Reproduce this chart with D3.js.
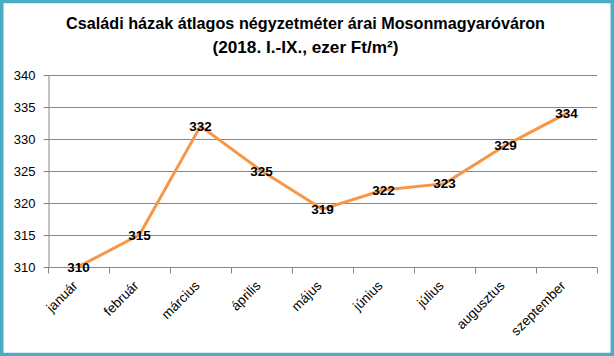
<!DOCTYPE html>
<html>
<head>
<meta charset="utf-8">
<script src="https://cdn.jsdelivr.net/npm/d3@7/dist/d3.min.js"></script>
<style>
  html, body { margin: 0; padding: 0; background: #fff; }
  svg { display: block; }
  text { font-family: "Liberation Sans", Arial, sans-serif; }
</style>
</head>
<body>
<svg id="chart" width="614" height="356"></svg>
<script>
const titleLines = ["Családi házak átlagos négyzetméter árai Mosonmagyaróváron", "(2018. I.-IX., ezer Ft/m²)"];
const categories = ["január", "február", "március", "április", "május", "június", "július", "augusztus", "szeptember"];
const values = [310, 315, 332, 325, 319, 322, 323, 329, 334];
const yTicks = [310, 315, 320, 325, 330, 335, 340];

const W = 614, H = 356;
const pLeft = 48, pRight = 597, pTop = 75, pBottom = 266.7;
const gridColor = "#868686";
const lineColor = "#F79646";
const frameColor = "#4BACC6";

const svg = d3.select("#chart");

svg.append("rect").attr("x", 0).attr("y", 0).attr("width", W).attr("height", H).attr("fill", "#fff");

const x = d3.scaleBand().domain(categories).range([pLeft, pRight]).padding(0);
const y = d3.scaleLinear().domain([310, 340]).range([pBottom, pTop]);

// gridlines
svg.append("g").selectAll("line").data(yTicks.filter(t => t !== 310)).join("line")
  .attr("x1", pLeft).attr("x2", pRight)
  .attr("y1", d => Math.round(y(d)) + 0.5).attr("y2", d => Math.round(y(d)) + 0.5)
  .attr("stroke", gridColor).attr("stroke-width", 1);

// y axis
const yAxis = d3.axisLeft(y).tickValues(yTicks).tickSize(5).tickPadding(8).tickSizeOuter(0);
const gy = svg.append("g").attr("transform", `translate(${pLeft + 0.5},0)`).call(yAxis);
gy.select(".domain").attr("stroke", gridColor);
gy.selectAll(".tick line").attr("stroke", gridColor);
gy.selectAll(".tick text").attr("font-size", 13).attr("fill", "#000")
  .attr("font-family", "Liberation Sans, Arial, sans-serif");
gy.selectAll(".tick").attr("transform", d => `translate(0,${Math.round(y(d)) + 0.5})`);

// x axis
const xb = Math.round(y(310)) + 0.5;
svg.append("line").attr("x1", pLeft).attr("x2", pRight).attr("y1", xb).attr("y2", xb).attr("stroke", gridColor);
const bounds = categories.map(c => x(c)).concat([x.range()[1]]);
svg.append("g").selectAll("line").data(bounds).join("line")
  .attr("x1", d => Math.round(d) + 0.5).attr("x2", d => Math.round(d) + 0.5)
  .attr("y1", xb).attr("y2", xb + 6).attr("stroke", gridColor);

// x labels
svg.append("g").selectAll("text").data(categories).join("text")
  .attr("transform", d => `translate(${x(d) + x.bandwidth() / 2},${xb + 19}) rotate(-45)`)
  .attr("text-anchor", "end")
  .attr("font-size", 13.5)
  .attr("fill", "#000")
  .text(d => d);

// line
const line = d3.line().x((d, i) => x(categories[i]) + x.bandwidth() / 2).y(d => y(d));
svg.append("path").datum(values).attr("d", line)
  .attr("fill", "none").attr("stroke", lineColor).attr("stroke-width", 3)
  .attr("stroke-linejoin", "round").attr("stroke-linecap", "round");

// data labels
svg.append("g").selectAll("text").data(values).join("text")
  .attr("x", (d, i) => x(categories[i]) + x.bandwidth() / 2)
  .attr("y", d => y(d))
  .attr("dy", "0.36em")
  .attr("text-anchor", "middle")
  .attr("font-size", 13.5)
  .attr("font-weight", "bold")
  .attr("fill", "#000")
  .text(d => d);

// title
svg.append("text").attr("x", 305.5).attr("y", 29).attr("text-anchor", "middle")
  .attr("font-size", 16.5).attr("font-weight", "bold")
  .attr("textLength", 479).attr("lengthAdjust", "spacingAndGlyphs")
  .text(titleLines[0]);
svg.append("text").attr("x", 305.5).attr("y", 52.5).attr("text-anchor", "middle")
  .attr("font-size", 16.5).attr("font-weight", "bold")
  .attr("textLength", 186).attr("lengthAdjust", "spacingAndGlyphs")
  .text(titleLines[1]);

// frame
svg.append("rect").attr("x", 1.75).attr("y", 1.5).attr("width", W - 3.5).attr("height", H - 3)
  .attr("fill", "none").attr("stroke", frameColor).attr("stroke-width", 3.5);
</script>
</body>
</html>
